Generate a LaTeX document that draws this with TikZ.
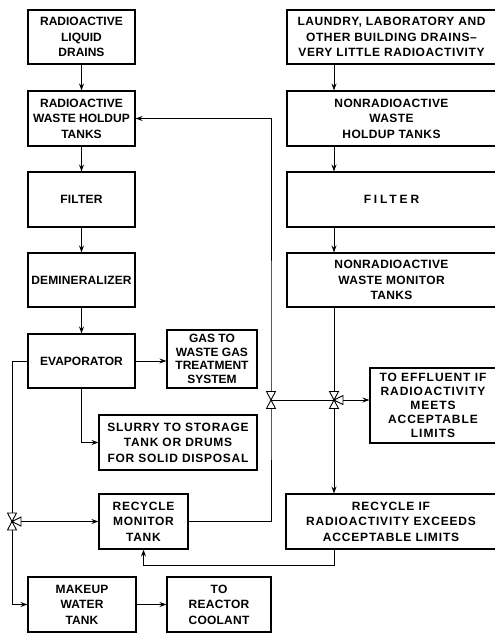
\documentclass[tikz,border=0pt]{standalone}
\usepackage{fontspec}
\setmainfont{Liberation Sans}
\usetikzlibrary{arrows.meta}
\begin{document}
\begin{tikzpicture}[x=1pt,y=-1pt,
  box/.style={draw,line width=1.1pt,align=center,inner sep=0pt},
  ls/.style 2 args={font={\fontsize{12}{#2}\selectfont\bfseries\addfontfeature{LetterSpace=#1}}},
  flow/.style={line width=0.9pt},
  arr/.style={flow,-{Stealth[length=7pt,width=5pt,inset=2.5pt]}},
  bowvalve/.pic={\draw[line width=0.9pt,fill=white] (-4.5,-8.5)--(4.5,-8.5)--(0,0)--cycle (-4.5,8.5)--(4.5,8.5)--(0,0)--cycle;},
  teevalve/.pic={\draw[line width=0.9pt,fill=white] (-4.5,-8.5)--(4.5,-8.5)--(0,0)--cycle (-4.5,8.5)--(4.5,8.5)--(0,0)--cycle (9,-4.5)--(9,4.5)--(0,0)--cycle;}
]
\useasboundingbox (0,0) rectangle (495,633);
% left column
\node[box,ls={0}{15.5},minimum width=107pt,minimum height=54pt] (rl) at (81.5,37) {RADIOACTIVE\\LIQUID\\DRAINS};
\node[box,ls={0}{15.5},minimum width=107pt,minimum height=55pt] (rh) at (81.5,118.5) {RADIOACTIVE\\WASTE HOLDUP\\TANKS};
\node[box,ls={2}{15.5},minimum width=107pt,minimum height=55pt] (rf) at (81.5,199.5) {FILTER};
\node[box,ls={1}{15.5},minimum width=107pt,minimum height=54pt] (dm) at (81.5,280) {DEMINERALIZER};
\node[box,ls={0}{15.5},minimum width=107pt,minimum height=54pt] (ev) at (81.5,361) {EVAPORATOR};
\node[box,ls={0}{13.5},minimum width=90pt,minimum height=58pt] (gas) at (212,359) {GAS TO\\WASTE GAS\\TREATMENT\\SYSTEM};
\node[box,ls={6}{15.5},minimum width=158pt,minimum height=55pt] (slurry) at (178,442.5) {SLURRY TO STORAGE\\TANK OR DRUMS\\FOR SOLID DISPOSAL};
\node[box,ls={6}{15.5},minimum width=89pt,minimum height=55pt] (rmt) at (143.5,521.5) {RECYCLE\\MONITOR\\TANK};
\node[box,ls={1}{15.5},minimum width=108pt,minimum height=55pt] (mk) at (82,604.5) {MAKEUP\\WATER\\TANK};
\node[box,ls={2}{15.5},minimum width=104pt,minimum height=55pt] (rc) at (219,604.5) {TO\\REACTOR\\COOLANT};
% right column
\node[box,ls={5}{15.5},minimum width=209pt,minimum height=54pt] (K) at (391.5,37) {LAUNDRY, LABORATORY AND\\OTHER BUILDING DRAINS–\\VERY LITTLE RADIOACTIVITY};
\node[box,ls={3}{15.5},minimum width=209pt,minimum height=55pt] (L) at (391.5,118.5) {NONRADIOACTIVE\\WASTE\\HOLDUP TANKS};
\node[box,ls={24}{15.5},minimum width=209pt,minimum height=55pt] (M) at (391.5,199.5) {FILTER};
\node[box,ls={3}{15.5},minimum width=209pt,minimum height=54pt] (N) at (391.5,280) {NONRADIOACTIVE\\WASTE MONITOR\\TANKS};
\node[box,ls={8}{14},minimum width=126pt,minimum height=75pt] (O) at (433,405.5) {TO EFFLUENT IF\\RADIOACTIVITY\\MEETS\\ACCEPTABLE\\LIMITS};
\node[box,ls={7}{15.5},minimum width=210pt,minimum height=55pt] (P) at (391,521.5) {RECYCLE IF\\RADIOACTIVITY EXCEEDS\\ACCEPTABLE LIMITS};
% junctions
\coordinate (lv) at (12,521.5);
\coordinate (mv) at (271,400);
\coordinate (tv) at (334,400);
\coordinate (rb) at (334,565);
% left flow
\draw[arr] (rl.south) -- (rh.north);
\draw[arr] (rh.south) -- (rf.north);
\draw[arr] (rf.south) -- (dm.north);
\draw[arr] (dm.south) -- (ev.north);
\draw[arr] (ev.east) -- (ev.east -| gas.west);
\draw[arr] (ev.south) |- (slurry.west);
\draw[flow] (ev.west) -| (lv);
\draw[arr] (lv) |- (mk.west);
\draw[arr] (lv) -- (rmt.west);
\draw[arr] (mk.east) -- (rc.west);
\draw[arr] (rmt.east) -| (mv) |- (rh.east);
% right flow
\draw[arr] (K.south -| tv) -- (L.north -| tv);
\draw[arr] (L.south -| tv) -- (M.north -| tv);
\draw[arr] (M.south -| tv) -- (N.north -| tv);
\draw[flow] (N.south -| tv) -- (tv);
\draw[flow] (mv) -- (tv);
\draw[arr] (tv) -- (tv |- P.north);
\draw[arr] (tv) -- (tv -| O.west);
\draw[arr] (P.south -| tv) -- (rb) -| (rmt.south);
% valves
\pic at (lv) {teevalve};
\pic at (mv) {bowvalve};
\pic at (tv) {teevalve};
\end{tikzpicture}
\end{document}
